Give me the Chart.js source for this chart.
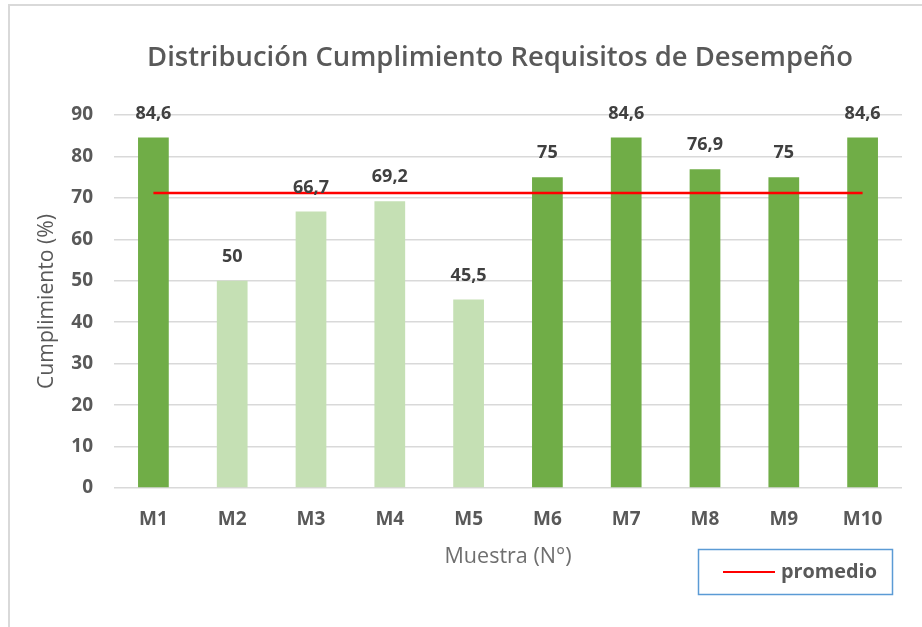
<!DOCTYPE html>
<html>
<head>
<meta charset="utf-8">
<script src="https://cdn.jsdelivr.net/npm/chart.js@4"></script>
<style>
html,body{margin:0;padding:0;background:#fff;}
#wrap{position:relative;width:922px;height:627px;overflow:hidden;}
#frame{position:absolute;left:8px;top:4px;width:930px;height:640px;border-top:2px solid #d9d9d9;border-left:2px solid #d9d9d9;box-sizing:border-box;}
canvas{position:absolute;left:0;top:0;}
</style>
</head>
<body>
<div id="wrap"><div id="frame"></div><canvas id="c" width="922" height="627"></canvas></div>
<script>
const categories = ['M1','M2','M3','M4','M5','M6','M7','M8','M9','M10'];
const values = [84.6, 50, 66.7, 69.2, 45.5, 75, 84.6, 76.9, 75, 84.6];
const labels = ['84,6','50','66,7','69,2','45,5','75','84,6','76,9','75','84,6'];
const promedio = [71.2, 71.2, 71.2, 71.2, 71.2, 71.2, 71.2, 71.2, 71.2, 71.2];
const yTicks = [0,10,20,30,40,50,60,70,80,90];
const titleText = 'Distribución Cumplimiento Requisitos de Desempeño';
const yTitle = 'Cumplimiento (%)';
const xTitle = 'Muestra (N°)';
const legendLabel = 'promedio';

const DARK = '#70AD47', LIGHT = '#C5E0B4';
const barColors = values.map(v => v >= promedio[0] ? DARK : LIGHT);
const FONT = '"Open Sans", Lato, sans-serif';

function fitText(ctx, text, weight, targetW, baseSize) {
  ctx.font = weight + ' ' + baseSize + 'px ' + FONT;
  const w = ctx.measureText(text).width;
  const size = baseSize * targetW / w;
  ctx.font = weight + ' ' + size.toFixed(2) + 'px ' + FONT;
}

const overlay = {
  id: 'overlay',
  afterDraw(chart) {
    const ctx = chart.ctx;
    const area = chart.chartArea;
    const meta = chart.getDatasetMeta(1);
    ctx.save();
    // data labels
    ctx.font = 'bold 18px ' + FONT;
    ctx.fillStyle = '#404040';
    ctx.textAlign = 'center';
    ctx.textBaseline = 'middle';
    meta.data.forEach((el, i) => {
      ctx.fillText(labels[i], el.x, el.y - 24);
    });
    // title
    ctx.fillStyle = '#595959';
    fitText(ctx, titleText, '600', 706, 24);
    ctx.fillText(titleText, 500, 58);
    // x axis title
    ctx.fillStyle = '#6f6f6f';
    fitText(ctx, xTitle, 'normal', 127, 17);
    ctx.fillText(xTitle, (area.left + area.right) / 2, 557);
    // y axis title
    ctx.save();
    ctx.translate(47, (area.top + area.bottom) / 2);
    ctx.rotate(-Math.PI / 2);
    ctx.fillStyle = '#595959';
    fitText(ctx, yTitle, 'normal', 175, 17);
    ctx.fillText(yTitle, 0, 0);
    ctx.restore();
    // legend
    ctx.strokeStyle = '#5B9BD5';
    ctx.lineWidth = 1.5;
    ctx.strokeRect(698.5, 549.5, 194, 45);
    ctx.strokeStyle = '#FF0000';
    ctx.lineWidth = 2;
    ctx.beginPath(); ctx.moveTo(723, 572); ctx.lineTo(775, 572); ctx.stroke();
    ctx.textAlign = 'left';
    ctx.fillStyle = '#595959';
    fitText(ctx, legendLabel, 'bold', 96, 18);
    ctx.fillText(legendLabel, 781, 572);
    ctx.restore();
  }
};

new Chart(document.getElementById('c'), {
  data: {
    labels: categories,
    datasets: [
      { type: 'line', label: legendLabel, data: promedio, borderColor: '#FF0000', borderWidth: 2.5,
        pointRadius: 0, fill: false, order: 0 },
      { type: 'bar', label: 'Cumplimiento', data: values, backgroundColor: barColors,
        borderWidth: 0, barPercentage: 0.39, categoryPercentage: 1, order: 1 }
    ]
  },
  options: {
    responsive: false,
    animation: false,
    events: [],
    layout: { padding: { left: 30, right: 20, top: 115, bottom: 47 } },
    plugins: { legend: { display: false }, title: { display: false }, tooltip: { enabled: false } },
    scales: {
      x: {
        offset: true,
        grid: { display: false, drawTicks: false },
        border: { display: false },
        ticks: { color: '#595959', font: { family: FONT, size: 19, weight: 'bold' }, padding: 20 },
        afterFit(s) { s.height = 92; }
      },
      y: {
        min: 0, max: 90,
        afterBuildTicks(s) { s.ticks = yTicks.map(v => ({ value: v })); },
        grid: { color: '#D9D9D9', lineWidth: 1.5, drawTicks: false },
        border: { display: false },
        ticks: { color: '#595959', font: { family: FONT, size: 19, weight: 'bold' }, padding: 21 },
        afterFit(s) { s.width = 84; }
      }
    }
  },
  plugins: [overlay]
});
</script>
</body>
</html>
